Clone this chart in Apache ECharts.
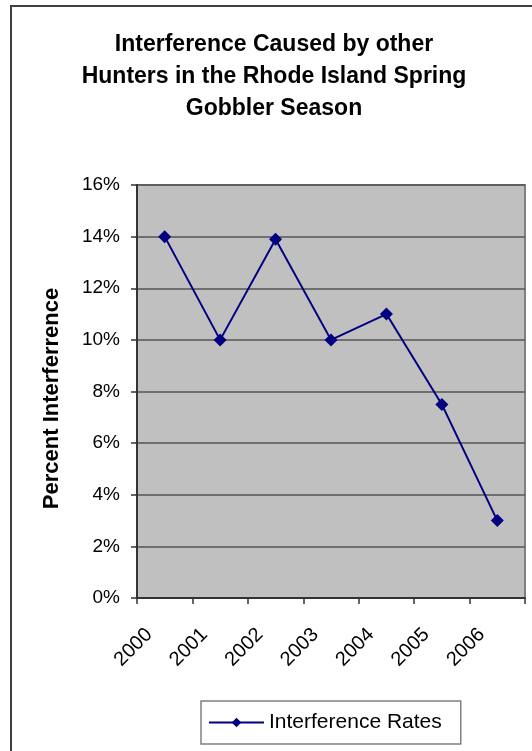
<!DOCTYPE html>
<html>
<head>
<meta charset="utf-8">
<script src="https://cdn.jsdelivr.net/npm/echarts@6/dist/echarts.min.js"></script>
<style>
  html, body { margin: 0; padding: 0; background: #ffffff; }
  #chart { width: 532px; height: 751px; }
</style>
</head>
<body>
<div id="chart"></div>
<script>
// Survey years and the share of hunters reporting interference (%)
var years = ['2000', '2001', '2002', '2003', '2004', '2005', '2006'];
var interferenceRates = [14, 10, 13.9, 10, 11, 7.5, 3];
var seriesName = 'Interference Rates';
var chartTitle = 'Interference Caused by other\nHunters in the Rhode Island Spring\nGobbler Season';
var yAxisTitle = 'Percent Interferrence';

var font = '"Liberation Sans", Arial, sans-serif';
var chart = echarts.init(document.getElementById('chart'), null, { renderer: 'canvas' });

chart.setOption({
  animation: false,
  backgroundColor: '#ffffff',
  graphic: [{
    type: 'rect',
    shape: { x: 11, y: 6, width: 600, height: 800 },
    style: { fill: 'none', stroke: '#404040', lineWidth: 2 },
    z: 100
  }],
  title: {
    text: chartTitle,
    left: 269,
    textAlign: 'center',
    top: 24,
    textStyle: {
      fontFamily: font, fontSize: 23, fontWeight: 'bold',
      color: '#000000', lineHeight: 32
    }
  },
  grid: {
    left: 137, top: 185, right: 7, bottom: 153,
    show: true, backgroundColor: '#C0C0C0',
    borderColor: '#808080', borderWidth: 2
  },
  legend: {
    data: [seriesName],
    left: 201, top: 701,
    padding: [11, 19, 11, 7],
    backgroundColor: '#ffffff',
    borderColor: '#808080', borderWidth: 1.5,
    itemWidth: 55, itemHeight: 12, itemGap: 0,
    textStyle: { fontFamily: font, fontSize: 21, color: '#000000' }
  },
  xAxis: {
    type: 'category',
    data: years,
    boundaryGap: true,
    axisLine: { show: true, lineStyle: { color: '#333333', width: 2 } },
    axisTick: { show: true, length: 6, lineStyle: { color: '#333333', width: 1.5 } },
    axisLabel: {
      rotate: 45, margin: 18, interval: 0,
      padding: [0, 22, 0, 0],
      fontFamily: font, fontSize: 20, color: '#000000'
    },
    splitLine: { show: false }
  },
  yAxis: {
    type: 'value',
    min: 0, max: 16, interval: 2,
    name: yAxisTitle,
    nameLocation: 'middle',
    nameGap: 74,
    nameRotate: 90,
    nameTextStyle: {
      fontFamily: font, fontSize: 22, fontWeight: 'bold', color: '#000000',
      padding: [0, 14, 0, 0]
    },
    axisLine: { show: true, lineStyle: { color: '#333333', width: 2 } },
    axisTick: { show: true, length: 6, lineStyle: { color: '#333333', width: 1.5 } },
    axisLabel: {
      margin: 17,
      formatter: '{value}%',
      fontFamily: font, fontSize: 19, color: '#000000'
    },
    splitLine: { show: true, lineStyle: { color: '#555555', width: 1.5 } }
  },
  series: [{
    name: seriesName,
    type: 'line',
    data: interferenceRates,
    symbol: 'diamond',
    symbolSize: 13,
    lineStyle: { color: '#000080', width: 2 },
    itemStyle: { color: '#000080' }
  }]
});
</script>
</body>
</html>
